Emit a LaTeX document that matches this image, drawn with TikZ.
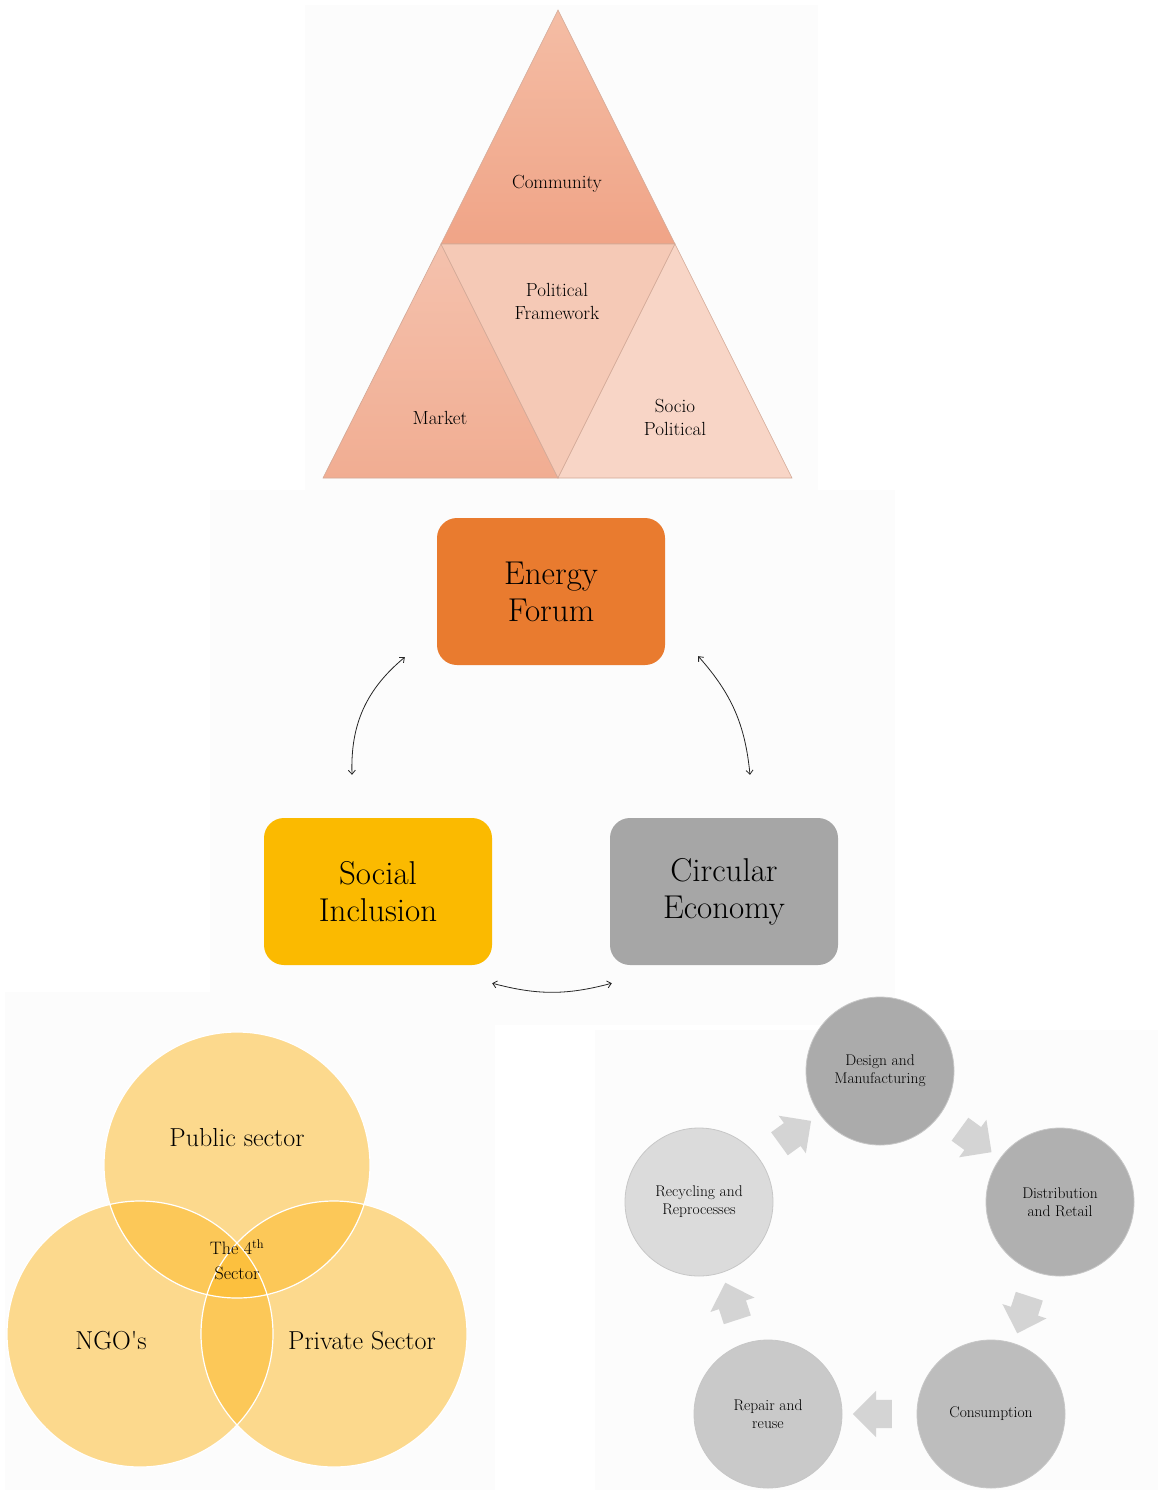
\documentclass[tikz,border=0pt]{standalone}
\usepackage{fontspec}
\usetikzlibrary{arrows.meta,shapes.arrows}
\definecolor{commtop}{HTML}{F4BDA5}
\definecolor{commbot}{HTML}{F0A487}
\definecolor{markcol}{HTML}{F1AD92}
\definecolor{polcol}{HTML}{F5C9B6}
\definecolor{sociocol}{HTML}{F8D5C6}
\definecolor{triedge}{HTML}{D2A896}
\definecolor{energycol}{HTML}{E97B2F}
\definecolor{socialcol}{HTML}{FBBA00}
\definecolor{circcol}{HTML}{A6A6A6}
\definecolor{venncol}{RGB}{252,186,40}
\begin{document}
\begin{tikzpicture}[x=1pt,y=-1pt,>={Straight Barb[length=4pt,width=7pt]},
  tri/.style={draw=triedge,line width=.6pt},
  trilabel/.style={align=center,text=black,font=\fontsize{19}{23}\selectfont},
  hub/.style={rounded corners=20,minimum width=228,minimum height=147,align=center,
    font=\fontsize{33}{37}\selectfont},
  link/.style={<->,line width=.8pt,black!85},
  venn/.style={fill=venncol,fill opacity=.52},
  vennlabel/.style={align=center,font=\fontsize{26}{28}\selectfont},
  stage/.style={circle,minimum size=148,draw=black!22,line width=.8pt,align=center,
    font=\fontsize{15.5}{18}\selectfont},
  cycarrow/.style={single arrow,fill=black!17,minimum height=39,inner xsep=0,inner ysep=14,
    single arrow head extend=9,sloped,allow upside down}]
\useasboundingbox (0,0) rectangle (1158,1490);
\fill[white] (0,0) rectangle (1158,1490);
% faint panels behind the four parts
\fill[black!1] (305,5) rectangle (818,490);
\fill[black!1] (210,490) rectangle (895,1025);
\fill[black!1] (5,992) rectangle (495,1490);
\fill[black!1] (595,1030) rectangle (1158,1490);

% triangle
\coordinate (apex) at (558,10);
\coordinate (bl) at (323,478);
\coordinate (br) at (792,478);
\coordinate (ml) at (441,244);
\coordinate (mr) at (675,244);
\coordinate (mb) at (558,478);
\shade[tri,top color=commtop,bottom color=commbot] (apex)--(ml)--(mr)--cycle;
\shade[tri,top color=markcol!75!white,bottom color=markcol] (ml)--(bl)--(mb)--cycle;
\fill[tri,fill=polcol] (ml)--(mr)--(mb)--cycle;
\fill[tri,fill=sociocol] (mr)--(mb)--(br)--cycle;
\node[trilabel] (comm) at (557,184) {Community};
\node[trilabel] (pol) at (557,301) {Political\\Framework};
\node[trilabel] (market) at (440,418) {Market};
\node[trilabel] (socio) at (675,417) {Socio\\Political};

% the three pillars
\node[hub,fill=energycol] (energy) at (551,591.5) {Energy\\Forum};
\node[hub,fill=socialcol] (social) at (378,891.5) {Social\\Inclusion};
\node[hub,fill=circcol] (circular) at (724,891.5) {Circular\\Economy};
\draw[link] ([shift={(-32,-8)}]energy.south west) to[bend right=26] ([shift={(-26,-43)}]social.north);
\draw[link] ([shift={(33,-9)}]energy.south east) to[bend left=18] ([shift={(26,-43)}]circular.north);
\draw[link] ([shift={(0,18)}]social.south east) to[bend right=15] ([shift={(2,18)}]circular.south west);

% venn of sectors
\fill[venn] (237,1165) circle (133);
\fill[venn] (140,1334) circle (133);
\fill[venn] (334,1334) circle (133);
\draw[white,line width=1.2pt] (237,1165) circle (133) (140,1334) circle (133) (334,1334) circle (133);
\node[vennlabel] (public) at (237,1138) {Public sector};
\node[vennlabel] (ngo) at (111,1341) {NGO\textquotesingle s};
\node[vennlabel] (private) at (362,1341) {Private Sector};
\node[align=center,font=\fontsize{18}{25}\selectfont] (fourth) at (237,1260) {The 4\textsuperscript{th}\\Sector};

% circular economy loop
\node[stage,fill=black!33] (design) at (880,1071) {Design and\\Manufacturing};
\node[stage,fill=black!31] (distrib) at (1060,1202) {Distribution\\and Retail};
\node[stage,fill=black!26] (consume) at (991,1414) {Consumption};
\node[stage,fill=black!21] (repair) at (768,1414) {Repair and\\reuse};
\node[stage,fill=black!14] (recycle) at (699,1202) {Recycling and\\Reprocesses};
\path (design) -- node[cycarrow]{} (distrib);
\path (distrib) -- node[cycarrow]{} (consume);
\path (consume) -- node[cycarrow]{} (repair);
\path (repair) -- node[cycarrow]{} (recycle);
\path (recycle) -- node[cycarrow]{} (design);
\end{tikzpicture}
\end{document}
